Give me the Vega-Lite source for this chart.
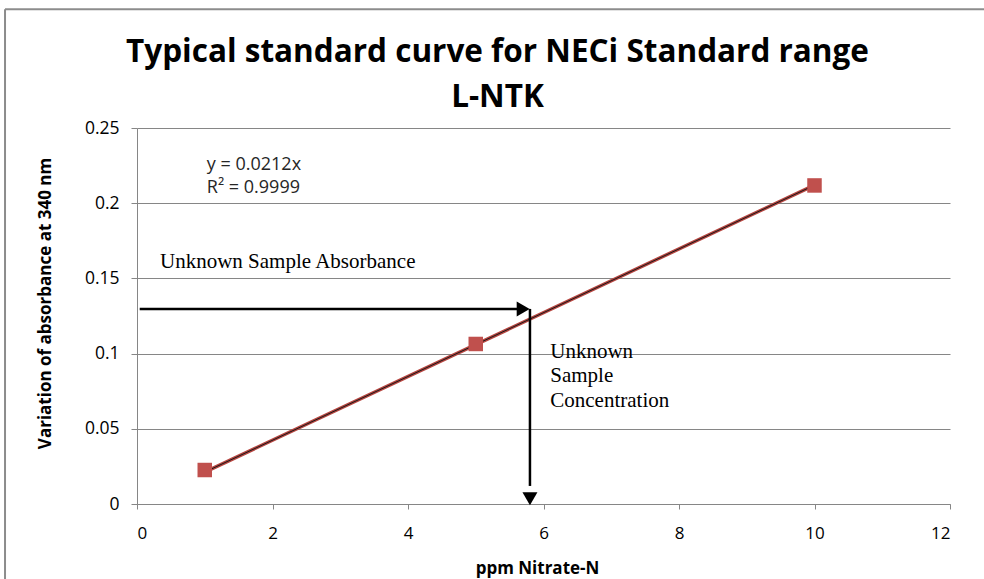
{
  "$schema": "https://vega.github.io/schema/vega-lite/v6.json",
  "autosize": {"type": "none"},
  "width": 813,
  "height": 376,
  "padding": {"left": 137, "top": 128, "right": 34, "bottom": 75},
  "background": "white",
  "config": {
    "view": {"stroke": null},
    "font": "Open Sans"
  },
  "title": {
    "text": ["Typical standard curve for NECi Standard range", "L-NTK"],
    "font": "Open Sans",
    "fontSize": 31.5,
    "fontWeight": "bold",
    "lineHeight": 45,
    "color": "#000000",
    "anchor": "middle",
    "frame": "group",
    "dx": -46,
    "offset": -105
  },
  "datasets": {
    "points": [
      {"ppm": 1, "abs": 0.0226},
      {"ppm": 5, "abs": 0.1064},
      {"ppm": 10, "abs": 0.2118}
    ],
    "trend": [
      {"ppm": 1, "abs": 0.0212},
      {"ppm": 10, "abs": 0.212}
    ],
    "arrows_h": [{"x": 0.04, "x2": 5.72, "y": 0.1297}],
    "arrows_v": [{"x": 5.8, "y": 0.1297, "y2": 0.012}],
    "heads": [
      {"x": 5.7, "y": 0.1297, "shape": "triangle-right"},
      {"x": 5.8, "y": 0.0035, "shape": "triangle-down"}
    ],
    "equation": [
      {"x": 1.03, "y": 0.2221, "label": "y = 0.0212x"},
      {"x": 1.03, "y": 0.2068, "label": "R² = 0.9999"}
    ],
    "notes": [
      {"x": 0.34, "y": 0.1569, "label": "Unknown Sample Absorbance"},
      {"x": 6.1, "y": 0.0971, "label": "Unknown"},
      {"x": 6.1, "y": 0.0811, "label": "Sample"},
      {"x": 6.1, "y": 0.0645, "label": "Concentration"}
    ],
    "frame_v": [{"x": -1.948, "y": 0.329, "y2": -0.06}],
    "frame_h": [{"x": -1.948, "x2": 13, "y": 0.329}]
  },
  "layer": [
    {
      "data": {"name": "frame_v"},
      "mark": {"type": "rule", "color": "#8c8c8c", "strokeWidth": 2, "clip": false},
      "encoding": {
        "x": {"field": "x", "type": "quantitative", "scale": {"domain": [0, 12], "nice": false, "zero": false},
          "axis": {
            "values": [0, 2, 4, 6, 8, 10, 12],
            "format": "d",
            "grid": false,
            "domainColor": "#868686",
            "tickColor": "#868686",
            "tickSize": 5,
            "labelFont": "Open Sans",
            "labelFontSize": 17,
            "labelColor": "#000000",
            "labelPadding": 16,
            "title": "ppm Nitrate-N",
            "titleFont": "Open Sans",
            "titleFontSize": 17,
            "titleFontWeight": "bold",
            "titleColor": "#000000",
            "titleBaseline": "alphabetic",
            "titleX": 400,
            "titleY": 69
          }},
        "y": {"field": "y", "type": "quantitative", "scale": {"domain": [0, 0.25], "nice": false, "zero": false},
          "axis": {
            "values": [0, 0.05, 0.1, 0.15, 0.2, 0.25],
            "format": "~g",
            "grid": true,
            "gridColor": "#868686",
            "domainColor": "#868686",
            "tickColor": "#868686",
            "tickSize": 6,
            "labelFont": "Open Sans",
            "labelFontSize": 17.5,
            "labelColor": "#000000",
            "labelPadding": 12,
            "title": "Variation of absorbance at 340 nm",
            "titleFont": "Open Sans",
            "titleFontSize": 17,
            "titleFontWeight": "bold",
            "titleColor": "#000000",
            "titleX": -92,
            "titleY": 175,
            "titleAngle": -90,
            "titleAlign": "center",
            "titleBaseline": "middle"
          }},
        "y2": {"field": "y2"}
      }
    },
    {
      "data": {"name": "frame_h"},
      "mark": {"type": "rule", "color": "#8c8c8c", "strokeWidth": 2, "clip": false},
      "encoding": {
        "x": {"field": "x", "type": "quantitative"},
        "x2": {"field": "x2"},
        "y": {"field": "y", "type": "quantitative"}
      }
    },
    {
      "data": {"name": "trend"},
      "mark": {"type": "line", "color": "#b5443f", "strokeWidth": 3.5},
      "encoding": {
        "x": {"field": "ppm", "type": "quantitative"},
        "y": {"field": "abs", "type": "quantitative"}
      }
    },
    {
      "data": {"name": "trend"},
      "mark": {"type": "line", "color": "#1a1a1a", "strokeWidth": 1},
      "encoding": {
        "x": {"field": "ppm", "type": "quantitative"},
        "y": {"field": "abs", "type": "quantitative"}
      }
    },
    {
      "data": {"name": "points"},
      "mark": {"type": "point", "shape": "square", "filled": true, "color": "#c0504d", "size": 210, "opacity": 1},
      "encoding": {
        "x": {"field": "ppm", "type": "quantitative"},
        "y": {"field": "abs", "type": "quantitative"}
      }
    },
    {
      "data": {"name": "arrows_h"},
      "mark": {"type": "rule", "color": "#000000", "strokeWidth": 2.5},
      "encoding": {
        "x": {"field": "x", "type": "quantitative"},
        "x2": {"field": "x2"},
        "y": {"field": "y", "type": "quantitative"}
      }
    },
    {
      "data": {"name": "arrows_v"},
      "mark": {"type": "rule", "color": "#000000", "strokeWidth": 2.5},
      "encoding": {
        "x": {"field": "x", "type": "quantitative"},
        "y": {"field": "y", "type": "quantitative"},
        "y2": {"field": "y2"}
      }
    },
    {
      "data": {"name": "heads"},
      "mark": {"type": "point", "filled": true, "color": "#000000", "size": 225, "opacity": 1},
      "encoding": {
        "x": {"field": "x", "type": "quantitative"},
        "y": {"field": "y", "type": "quantitative"},
        "shape": {"field": "shape", "type": "nominal", "scale": null, "legend": null}
      }
    },
    {
      "data": {"name": "equation"},
      "mark": {"type": "text", "align": "left", "baseline": "alphabetic", "font": "Open Sans", "fontSize": 18, "color": "#262626"},
      "encoding": {
        "x": {"field": "x", "type": "quantitative"},
        "y": {"field": "y", "type": "quantitative"},
        "text": {"field": "label"}
      }
    },
    {
      "data": {"name": "notes"},
      "mark": {"type": "text", "align": "left", "baseline": "alphabetic", "font": "Liberation Serif", "fontSize": 21, "color": "#000000"},
      "encoding": {
        "x": {"field": "x", "type": "quantitative"},
        "y": {"field": "y", "type": "quantitative"},
        "text": {"field": "label"}
      }
    }
  ]
}
